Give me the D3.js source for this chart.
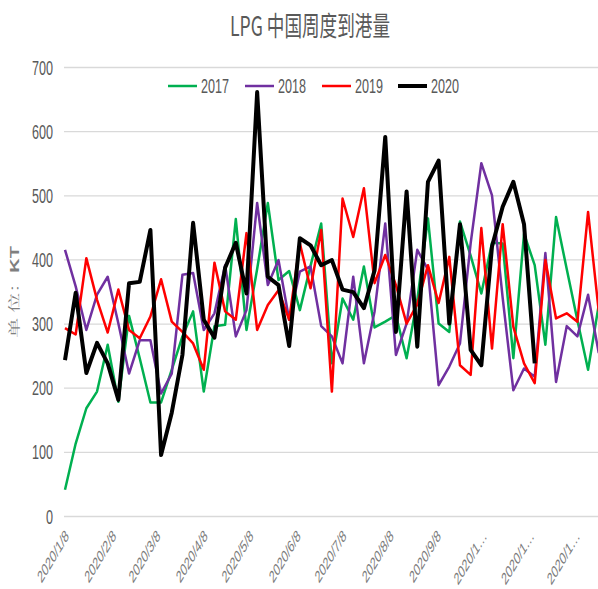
<!DOCTYPE html>
<html><head><meta charset="utf-8">
<script src="https://cdn.jsdelivr.net/npm/d3@7"></script>
<style>
html,body{margin:0;padding:0;background:#fff;}
svg{display:block;}
text{font-family:"Liberation Sans","Noto Sans CJK SC",sans-serif;fill:#595959;}
</style></head>
<body>
<script>
const weeks = ["2020/1/8","2020/1/15","2020/1/22","2020/1/29","2020/2/5","2020/2/12","2020/2/19","2020/2/26",
"2020/3/4","2020/3/11","2020/3/18","2020/3/25","2020/4/1","2020/4/8","2020/4/15","2020/4/22","2020/4/29",
"2020/5/6","2020/5/13","2020/5/20","2020/5/27","2020/6/3","2020/6/10","2020/6/17","2020/6/24",
"2020/7/1","2020/7/8","2020/7/15","2020/7/22","2020/7/29","2020/8/5","2020/8/12","2020/8/19","2020/8/26",
"2020/9/2","2020/9/9","2020/9/16","2020/9/23","2020/9/30","2020/10/7","2020/10/14","2020/10/21","2020/10/28",
"2020/11/4","2020/11/11","2020/11/18","2020/11/25","2020/12/2","2020/12/9","2020/12/16","2020/12/23"];
const y2017 = [41,113,168,194,267,178,312,246,177,177,228,280,319,194,296,298,463,290,385,488,368,382,321,390,456,238,339,306,389,294,303,313,246,337,464,300,287,459,406,347,426,425,246,440,391,267,466,385,305,228,329];
const y2018 = [415,358,290,345,373,300,222,274,274,191,222,376,379,290,316,391,280,321,488,360,399,306,381,389,296,280,238,373,238,319,456,251,300,415,384,204,233,269,425,550,500,340,196,230,217,410,209,296,280,345,254];
const y2019 = [293,283,402,337,286,353,290,277,311,369,303,287,269,228,395,319,306,441,290,329,352,306,425,355,446,194,495,435,511,363,407,360,300,330,391,332,404,235,220,449,261,455,295,238,207,399,308,316,303,474,319];
const y2020 = [243,348,223,270,238,181,363,365,446,95,161,251,457,306,278,387,426,347,661,373,360,265,433,422,391,399,353,349,324,383,591,287,506,264,521,554,300,455,259,235,420,482,521,455,238];
const seriesNames = ["2017","2018","2019","2020"];
const seriesColors = ["#00B050","#7030A0","#FF0000","#000000"];
const seriesWidths = [2.5,2.5,2.5,4];
const yTicks = [0,100,200,300,400,500,600,700];
const xTickDates = ["2020/1/8","2020/2/8","2020/3/8","2020/4/8","2020/5/8","2020/6/8","2020/7/8","2020/8/8","2020/9/8","2020/10/8","2020/11/8","2020/12/8"];
const xTickLabels = ["2020/1/8","2020/2/8","2020/3/8","2020/4/8","2020/5/8","2020/6/8","2020/7/8","2020/8/8","2020/9/8","2020/1…","2020/1…","2020/1…"];
const title = "LPG 中国周度到港量";
const yTitleCJK = "单 位：";
const yTitleLatin = "KT";

const W = 598, H = 589;
const parse = d3.timeParse("%Y/%m/%d");
const svg = d3.select("body").append("svg").attr("width", W).attr("height", H);

const x0 = 65, pxPerDay = 1.525;
const d0 = parse(weeks[0]);
const dEnd = d3.timeDay.offset(d0, 360);
const x = d3.scaleTime().domain([d0, dEnd]).range([x0, x0 + 360 * pxPerDay]);
const y = d3.scaleLinear().domain([0, 700]).range([516, 67]);

// gridlines
const grid = svg.append("g").attr("transform", `translate(64,0)`)
  .call(d3.axisLeft(y).tickValues(yTicks).tickSize(-(W - 64)).tickFormat(""));
grid.select(".domain").remove();
grid.selectAll("line").attr("stroke", "#D9D9D9").attr("stroke-width", 1.3);

// y labels
const ya = svg.append("g").attr("transform", `translate(53,0)`)
  .call(d3.axisLeft(y).tickValues(yTicks).tickSize(0).tickPadding(0));
ya.select(".domain").remove();
ya.selectAll("text").attr("x", null).attr("dy", null)
  .attr("transform", "translate(0,7) scale(0.6,1)")
  .attr("text-anchor", "end")
  .style("font-size", "21px").style("fill", "#595959")
  .style("font-family", "'Liberation Sans', sans-serif");

// x axis labels
const xa = svg.append("g").attr("transform", `translate(0,516)`)
  .call(d3.axisBottom(x).tickValues(xTickDates.map(parse)).tickSize(0)
    .tickFormat((d, i) => xTickLabels[i]));
xa.select(".domain").remove();
xa.selectAll("text").attr("y", null).attr("dy", null)
  .attr("transform", "translate(4,21) scale(0.6,1) rotate(-45)")
  .attr("text-anchor", "end")
  .style("font-size", "17px").style("fill", "#7a7a7a")
  .style("font-family", "'Liberation Sans', sans-serif");

// lines
const allSeries = [y2017, y2018, y2019, y2020];
const line = d3.line().x((d, i) => x(parse(weeks[i]))).y(d => y(d));
allSeries.forEach((s, k) => {
  svg.append("path").datum(s).attr("d", line)
    .attr("fill", "none").attr("stroke", seriesColors[k])
    .attr("stroke-width", seriesWidths[k]).attr("stroke-linejoin", "round");
});

// legend
const legX = [168, 245, 322, 398];
seriesNames.forEach((n, k) => {
  svg.append("line").attr("x1", legX[k]).attr("x2", legX[k] + 29)
    .attr("y1", 86).attr("y2", 86)
    .attr("stroke", seriesColors[k]).attr("stroke-width", seriesWidths[k]);
  svg.append("text").attr("transform", `translate(${legX[k] + 33},93) scale(0.6,1)`)
    .style("font-size", "21px").text(n);
});

// title
svg.append("text").attr("x", 310).attr("y", 36).attr("text-anchor", "middle")
  .attr("textLength", 160).attr("lengthAdjust", "spacingAndGlyphs")
  .style("font-size", "27px").style("font-family", "'Noto Sans CJK SC', sans-serif")
  .text(title);

// y title
const yt = svg.append("text")
  .attr("transform", "translate(15,292) scale(0.6,1) rotate(-90)")
  .attr("text-anchor", "middle").attr("dy", "0.35em")
  .style("font-size", "20px").style("fill", "#7f7f7f");
yt.append("tspan").style("font-family", "'Noto Serif CJK SC','Noto Sans CJK SC', serif").text(yTitleCJK);
yt.append("tspan").style("font-family", "'Liberation Sans', sans-serif").style("font-weight", "bold").text(yTitleLatin);
</script>
</body></html>
